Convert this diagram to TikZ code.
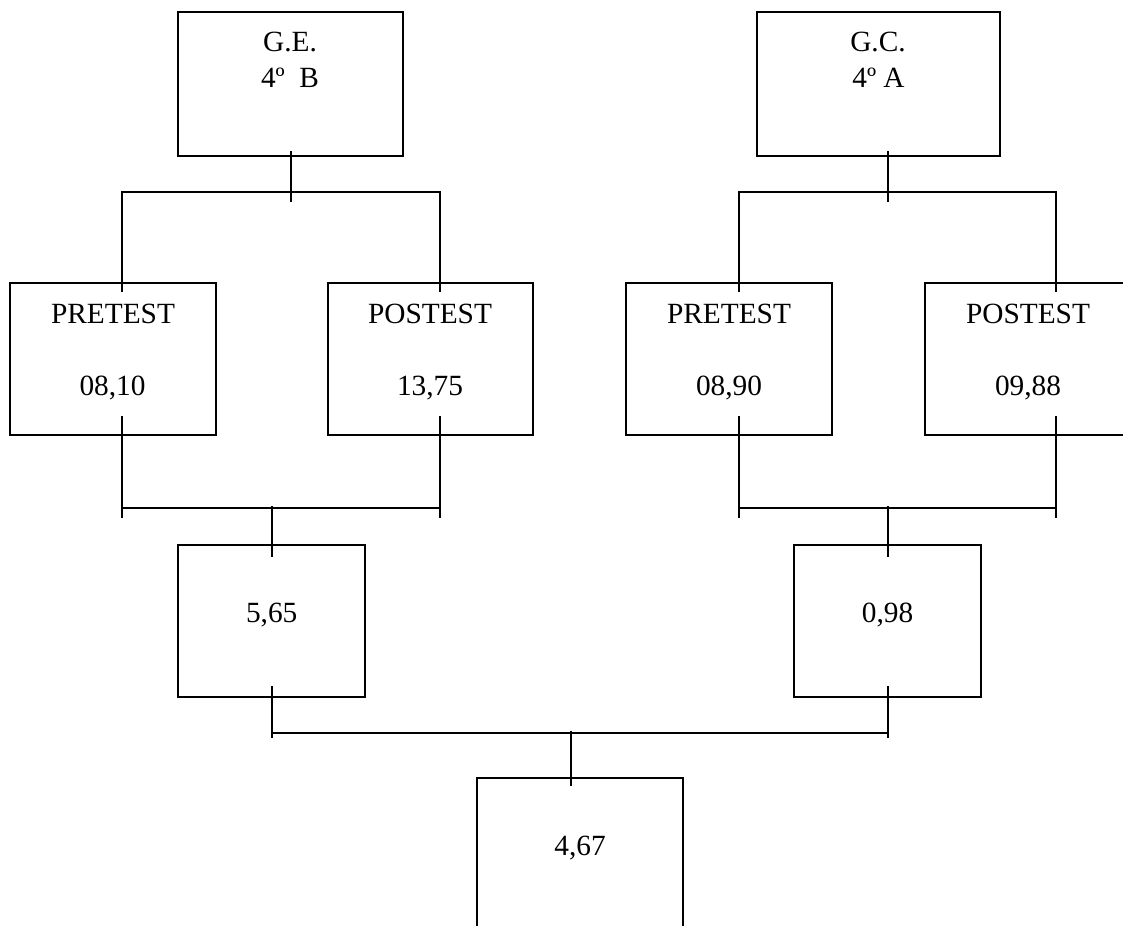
\documentclass[tikz,border=0pt]{standalone}
\usepackage{fontspec}
\setmainfont{Liberation Serif}
\usetikzlibrary{calc}
\begin{document}
\begin{tikzpicture}[x=0.75pt,y=-0.75pt,
  boxwh/.style 2 args={draw=black, line width=1.5pt, rectangle, inner sep=0pt,
     minimum width=#1*0.75pt, minimum height=#2*0.75pt},
  lbl/.style={anchor=base, inner sep=0pt, font=\fontsize{22pt}{26pt}\selectfont},
  conn/.style={draw=black, line width=1.5pt}]
\useasboundingbox (0,0) rectangle (1123,925);
\clip (0,0) rectangle (1123,925);
% boxes
\node[boxwh={225}{144}] (ge) at (290.5,84) {};
\node[boxwh={243}{144}] (gc) at (878.5,84) {};
\node[boxwh={206}{152}] (pre1) at (113,359) {};
\node[boxwh={205}{152}] (post1) at (430.5,359) {};
\node[boxwh={206}{152}] (pre2) at (729,359) {};
\node[boxwh={206}{152}] (post2) at (1028,359) {};
\node[boxwh={187}{152}] (d1) at (271.5,621) {};
\node[boxwh={187}{152}] (d2) at (887.5,621) {};
\node[boxwh={206}{180}] (tot) at (580,868) {};
% texts
\node[lbl] (ge1) at (290,51) {G.E.};
\node[lbl] (ge2) at (290,87) {4º~ B};
\node[lbl] (gc1) at (878,51) {G.C.};
\node[lbl] (gc2) at (878.5,87) {4º A};
\node[lbl] (pre1a) at (113,323) {PRETEST};
\node[lbl] (pre1b) at (112.5,395) {08,10};
\node[lbl] (post1a) at (430,323) {POSTEST};
\node[lbl] (post1b) at (430,395) {13,75};
\node[lbl] (pre2a) at (729,323) {PRETEST};
\node[lbl] (pre2b) at (729,395) {08,90};
\node[lbl] (post2a) at (1028,323) {POSTEST};
\node[lbl] (post2b) at (1028,395) {09,88};
\node[lbl] (d1a) at (271.7,622.7) {5,65};
\node[lbl] (d2a) at (887.5,622.5) {0,98};
\node[lbl] (tota) at (580,855) {4,67};
% top connectors, left
\draw[conn] ($(ge.south)+(0,-6)$) -- ($(ge.south)+(0,45)$);
\draw[conn] ($(pre1.north)+(9,10)$) |- ($(ge.south)+(0,35)$) -| ($(post1.north)+(9.5,10)$);
% top connectors, right
\draw[conn] ($(gc.south)+(9.5,-6)$) -- ($(gc.south)+(9.5,45)$);
\draw[conn] ($(pre2.north)+(9.7,10)$) |- ($(gc.south)+(9.5,35)$) -| ($(post2.north)+(28,10)$);
% middle connectors, left
\draw[conn] ($(pre1.south)+(9,-20)$) -- ($(pre1.south)+(9,82)$);
\draw[conn] ($(post1.south)+(9.5,-20)$) -- ($(post1.south)+(9.5,82)$);
\draw[conn] ($(pre1.south)+(9,72)$) -- ($(post1.south)+(9.5,72)$);
\draw[conn] ($(d1.north)+(0.5,-38)$) -- ($(d1.north)+(0.5,13)$);
% middle connectors, right
\draw[conn] ($(pre2.south)+(9.7,-20)$) -- ($(pre2.south)+(9.7,82)$);
\draw[conn] ($(post2.south)+(28,-20)$) -- ($(post2.south)+(28,82)$);
\draw[conn] ($(pre2.south)+(9.7,72)$) -- ($(post2.south)+(28,72)$);
\draw[conn] ($(d2.north)+(0.3,-38)$) -- ($(d2.north)+(0.3,13)$);
% bottom connectors
\draw[conn] ($(d1.south)+(0.5,-12)$) -- ($(d1.south)+(0.5,40)$);
\draw[conn] ($(d2.south)+(0.3,-12)$) -- ($(d2.south)+(0.3,40)$);
\draw[conn] ($(d1.south)+(0.5,34.5)$) -- ($(d2.south)+(0.3,34.5)$);
\draw[conn] ($(tot.north)+(-9.3,-46.5)$) -- ($(tot.north)+(-9.3,9)$);
\end{tikzpicture}
\end{document}
